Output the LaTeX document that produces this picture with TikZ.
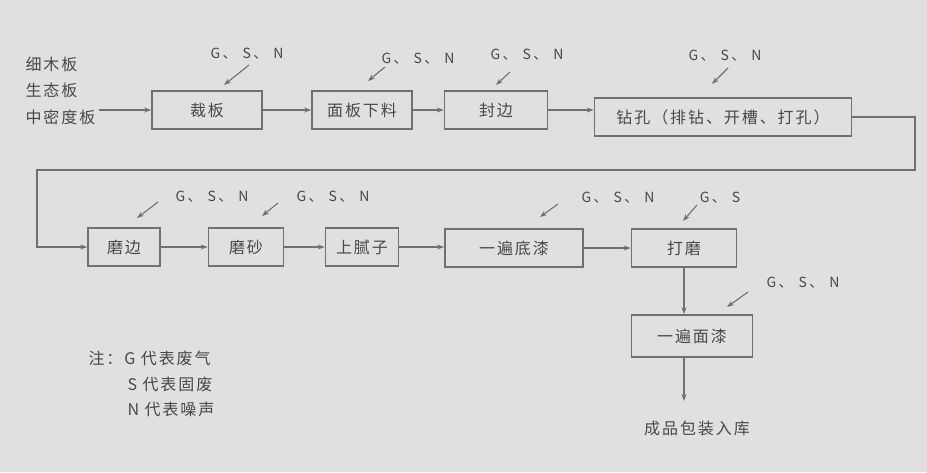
\documentclass[tikz,border=0pt]{standalone}
\usepackage{fontspec}
\setmainfont{Noto Sans CJK SC}
\newfontfamily\scanfont[LetterSpace=12]{Noto Sans CJK SC}
\usetikzlibrary{arrows.meta}
\definecolor{ScanInk}{RGB}{72,72,72}
\definecolor{ScanLine}{RGB}{112,112,112}
\definecolor{ScanPaper}{RGB}{224,224,226}

\begin{document}
\begin{tikzpicture}[x=1pt, y=-1pt,
          stepbox/.style={rectangle, draw=ScanLine, line width=1.6pt,
                          minimum height=38pt, inner sep=2pt, text=ScanInk,
                          font=\scanfont\fontsize{16}{18}\selectfont},
          arr/.style={-{Stealth[length=7pt,width=5pt]}, draw=ScanLine,
                      line width=1.2pt},
          emi/.style={-{Stealth[length=7pt,width=5pt]}, draw=ScanLine,
                      line width=1.1pt},
          gsn/.style={font=\fontsize{14}{16}\selectfont, text=ScanInk},
          txt/.style={font=\scanfont\fontsize{16}{18}\selectfont, text=ScanInk}
        ]
        \fill[ScanPaper] (0,0) rectangle (927,472);
        \useasboundingbox (0,0) rectangle (927,472);

        % Raw boards
        \node[txt, anchor=west] (in1) at (22,64)  {细木板};
        \node[txt, anchor=west] (in2) at (22,90)  {生态板};
        \node[txt, anchor=west] (in3) at (22,117) {中密度板};

        % First row
        \node[stepbox, minimum width=110pt] (cut)   at (207,110) {裁板};
        \node[stepbox, minimum width=100pt] (blank) at (362,110) {面板下料};
        \node[stepbox, minimum width=103pt] (edge)  at (496,110) {封边};
        \node[stepbox, minimum width=257pt] (drill) at (723,117)
              {钻孔（排钻、开槽、打孔）};

        \draw[arr] (in3.east |- cut.west) -- (cut.west);
        \draw[arr] (cut.east)   -- (blank.west);
        \draw[arr] (blank.east) -- (edge.west);
        \draw[arr] (edge.east)  -- (drill.west |- edge.east);

        % Return line
        \coordinate (rt) at (915,170);
        \coordinate (lt) at (37,170);

        % Second row
        \node[stepbox, minimum width=72pt]  (grind)  at (124,247) {磨边};
        \node[stepbox, minimum width=75pt]  (sand)   at (246,247) {磨砂};
        \node[stepbox, minimum width=73pt]  (putty)  at (362,247) {上腻子};
        \node[stepbox, minimum width=138pt] (primer) at (514,248) {一遍底漆};
        \node[stepbox, minimum width=105pt] (polish) at (684,248) {打磨};

        \draw[arr] (drill.east) -| (rt) -- (lt) |- (grind.west);
        \draw[arr] (grind.east)  -- (sand.west);
        \draw[arr] (sand.east)   -- (putty.west);
        \draw[arr] (putty.east)  -- (primer.west |- putty.east);
        \draw[arr] (primer.east) -- (polish.west |- primer.east);

        % Finishing
        \node[stepbox, minimum width=121pt, minimum height=42pt]
              (topcoat) at (692,336) {一遍面漆};
        \node[txt] (store) at (697,428) {成品包装入库};

        \draw[arr] (polish.south) -- (polish.south |- topcoat.north);
        \draw[arr, shorten >=16pt] (polish.south |- topcoat.south)
              -- (polish.south |- store.north);

        % Emissions
        \node[gsn] (e1) at (247,54)  {G\,、\hspace{6pt}S\,、\hspace{6pt}N};
        \node[gsn] (e2) at (418,59)  {G\,、\hspace{6pt}S\,、\hspace{6pt}N};
        \node[gsn] (e3) at (527,55)  {G\,、\hspace{6pt}S\,、\hspace{6pt}N};
        \node[gsn] (e4) at (725,56)  {G\,、\hspace{6pt}S\,、\hspace{6pt}N};
        \node[gsn] (e5) at (212,197) {G\,、\hspace{6pt}S\,、\hspace{6pt}N};
        \node[gsn] (e6) at (333,197) {G\,、\hspace{6pt}S\,、\hspace{6pt}N};
        \node[gsn] (e7) at (618,198) {G\,、\hspace{6pt}S\,、\hspace{6pt}N};
        \node[gsn] (e8) at (720,198) {G\,、\hspace{6pt}S};
        \node[gsn] (e9) at (803,283) {G\,、\hspace{6pt}S\,、\hspace{6pt}N};

        \draw[emi] ([shift={(2,11)}]e1.center)   -- +(-25,20);
        \draw[emi] ([shift={(-33,8)}]e2.center)  -- +(-17,14);
        \draw[emi] ([shift={(-17,17)}]e3.center) -- +(-14,13);
        \draw[emi] ([shift={(3,12)}]e4.center)   -- +(-16,16);
        \draw[emi] ([shift={(-54,5)}]e5.center)  -- +(-21,16);
        \draw[emi] ([shift={(-55,6)}]e6.center)  -- +(-16,13);
        \draw[emi] ([shift={(-60,6)}]e7.center)  -- +(-18,13);
        \draw[emi] ([shift={(-23,7)}]e8.center)  -- +(-14,16);
        \draw[emi] ([shift={(-55,9)}]e9.center)  -- +(-21,15);

        % Legend
        \node[txt, anchor=west] (note1) at (85,358)  {注：G 代表废气};
        \node[txt, anchor=west] (note2) at (124,384) {S 代表固废};
        \node[txt, anchor=west] (note3) at (124,409) {N 代表噪声};
      \end{tikzpicture}
\end{document}
